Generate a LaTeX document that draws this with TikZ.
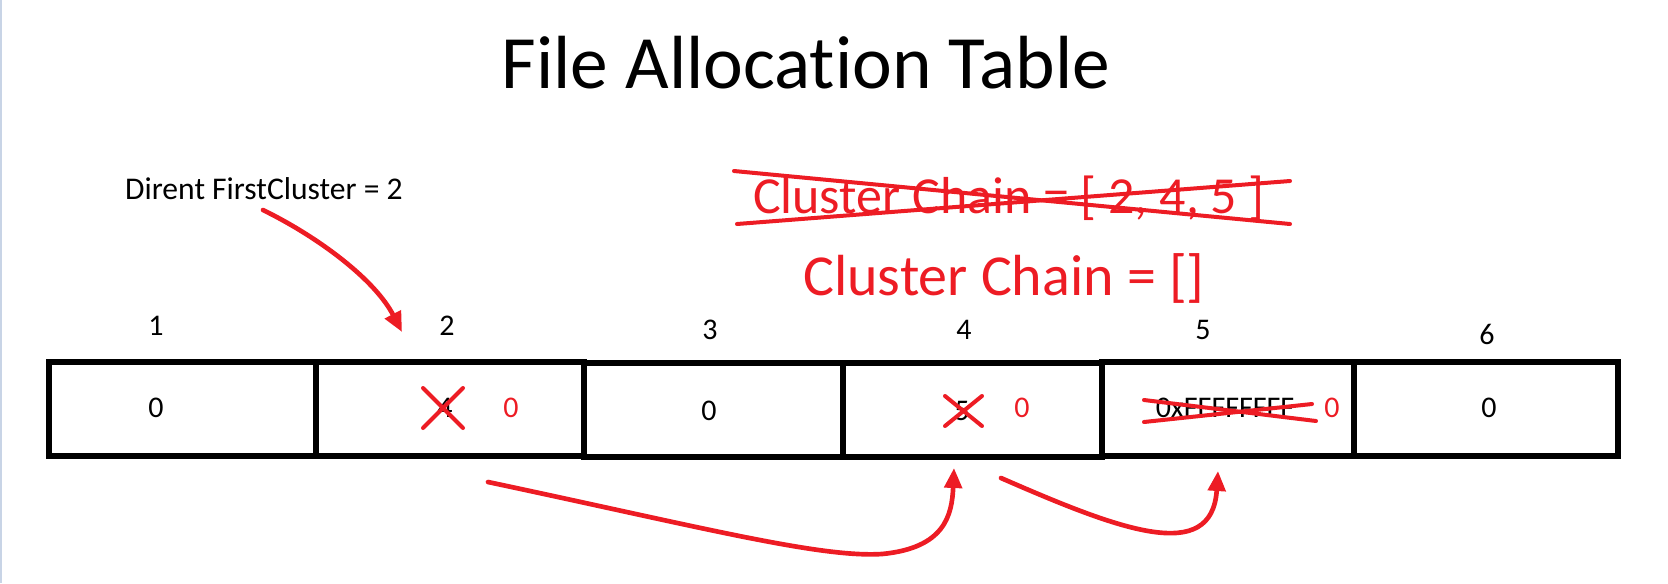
\documentclass[tikz,border=0pt]{standalone}
\usepackage{fontspec}
\setmainfont{Carlito}[Ligatures=NoCommon]
\usetikzlibrary{arrows.meta}
\definecolor{paintred}{RGB}{237,28,36}
\definecolor{edge}{RGB}{200,212,230}
\newcommand{\h}{70.5pt}

\begin{document}
\begin{tikzpicture}[x=0.75pt,y=-0.75pt,
    cell/.style={draw, line width=3.8pt, rectangle, minimum height=\h, inner sep=0pt},
    lbl/.style={anchor=base, inner sep=0pt, font=\fontsize{22.5}{26}\selectfont},
    newval/.style={lbl, text=paintred},
    cross/.style={paintred, line width=3pt, line cap=round},
    link/.style={paintred, line width=3.5pt, line cap=round, -{Triangle[length=15pt,width=13pt]}}]
    \useasboundingbox (0,0) rectangle (1668,583);
    \draw[edge, line width=1.5pt] (1,0) -- (1,583);

    % Titles
    \node[anchor=base, inner sep=0pt, font=\fontsize{56.5}{62}\selectfont] (title) at (806,88) {File Allocation Table};
    \node[anchor=base, inner sep=0pt, font=\fontsize{23.7}{28}\selectfont] (dirent) at (264,199) {Dirent FirstCluster = 2};
    \node[anchor=base, inner sep=0pt, text=paintred, font=\fontsize{39}{44}\selectfont] (oldchain) at (1009,213) {Cluster Chain = [ 2, 4, 5 ]};
    \node[anchor=base, inner sep=0pt, text=paintred, font=\fontsize{43.5}{48}\selectfont] (newchain) at (1004,295) {Cluster Chain = []};
    \draw[cross] (734,171) -- (1290,224);
    \draw[cross] (737,224) -- (1290,181);

    % Cells
    \node[cell, minimum width=200.25pt] (cell-1) at (182.5,409) {};
    \node[cell, minimum width=201pt] (cell-2) at (450,409) {};
    \node[cell, minimum width=194.25pt] (cell-3) at (713.5,410) {};
    \node[cell, minimum width=194.25pt] (cell-4) at (972.5,410) {};
    \node[cell, minimum width=189pt] (cell-5) at (1228,409) {};
    \node[cell, minimum width=198pt] (cell-6) at (1486,409) {};

    % Cluster numbers
    \node[lbl] (idx-1) at (156,335) {1};
    \node[lbl] (idx-2) at (447,335) {2};
    \node[lbl] (idx-3) at (710,339) {3};
    \node[lbl] (idx-4) at (964,339) {4};
    \node[lbl] (idx-5) at (1203,339) {5};
    \node[lbl] (idx-6) at (1487,344) {6};

    % Values
    \node[lbl] (val-1) at (156,417) {0};
    \node[lbl] (val-2) at (445,417) {4};
    \node[newval] (new-2) at (511,417) {0};
    \node[lbl] (val-3) at (709,420) {0};
    \node[lbl] (val-4) at (962,420) {5};
    \node[newval] (new-4) at (1022,417) {0};
    \node[lbl] (val-5) at (1225,417) {0xFFFFFFFF};
    \node[newval] (new-5) at (1332,417) {0};
    \node[lbl] (val-6) at (1489,417) {0};

    % Crossed out values
    \draw[cross] (423,388) -- (463,428);
    \draw[cross] (423,428) -- (463,388);
    \draw[cross] (945,396) -- (982,426);
    \draw[cross] (945,426) -- (982,396);
    \draw[cross] (1144,400) -- (1316,421);
    \draw[cross] (1144,422) -- (1312,404);

    % Links
    \coordinate (tail-1) at (263,210);
    \coordinate (head-1) at (402,332);
    \coordinate (tail-2) at (488,482);
    \coordinate (head-2) at (954,468);
    \coordinate (tail-3) at (1001,478);
    \coordinate (head-3) at (1218,471);
    \draw[link] (tail-1) .. controls (320,238) and (375,280) .. (head-1);
    \draw[link] (tail-2) .. controls (700,527) and (820,558) .. (882,554) .. controls (945,548) and (952,515) .. (head-2);
    \draw[link] (tail-3) .. controls (1120,530) and (1212,565) .. (head-3);
\end{tikzpicture}
\end{document}
